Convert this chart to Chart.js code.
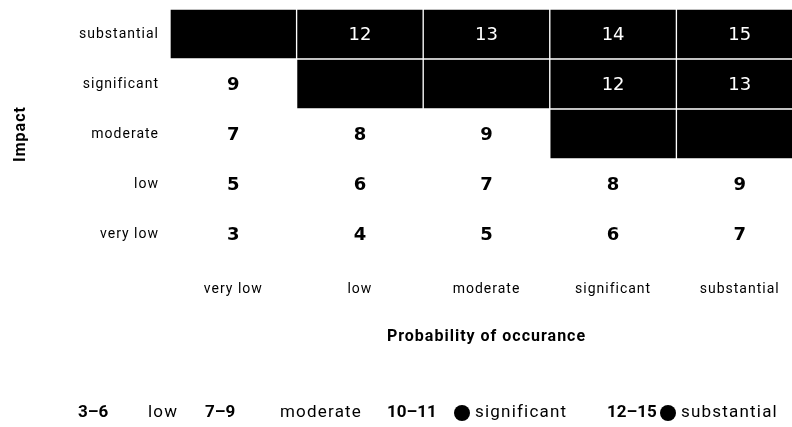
<!DOCTYPE html>
<html>
<head>
  <title>Risk matrix</title>
  <script src="https://cdn.jsdelivr.net/npm/chart.js@4/dist/chart.umd.min.js"></script>
  <style>
    html, body { margin: 0; padding: 0; overflow: hidden; background: #fff; }
    .chart-container { position: relative; width: 806px; height: 427px; }
  </style>
</head>
<body>
  <div class="chart-container">
    <canvas id="matrix"></canvas>
  </div>
  <script>
    // columns: probability of occurance, rows: impact (bottom to top)
    var probLabels = ['very low', 'low', 'moderate', 'significant', 'substantial'];
    var impactLabels = ['very low', 'low', 'moderate', 'significant', 'substantial'];

    var riskVeryLow     = [3, 4, 5, 6, 7];
    var riskLow         = [5, 6, 7, 8, 9];
    var riskModerate    = [7, 8, 9, 10, 11];
    var riskSignificant = [9, 10, 11, 12, 13];
    var riskSubstantial = [11, 12, 13, 14, 15];
    var riskRows = [riskVeryLow, riskLow, riskModerate, riskSignificant, riskSubstantial];

    var legendRanges = ['3–6', '7–9', '10–11', '12–15'];
    var legendNames = ['low', 'moderate', 'significant', 'substantial'];
    var legendMin = [3, 7, 10, 12];

    function cellColor(v) {
      return v >= 10 ? '#000' : 'rgba(0,0,0,0)';
    }

    var datasets = riskRows.map(function(row, r) {
      return {
        label: impactLabels[r],
        risk: row,
        data: row.map(function() { return [r, r + 1]; }),
        backgroundColor: row.map(cellColor),
        borderColor: '#fff',
        borderWidth: 1,
        borderSkipped: false,
        barPercentage: 1,
        categoryPercentage: 1,
        grouped: false
      };
    });

    var spacing = {
      id: 'spacing',
      beforeUpdate: function(chart) { chart.ctx.letterSpacing = '1px'; },
      beforeDraw: function(chart) { chart.ctx.letterSpacing = '1px'; }
    };

    var cellText = {
      id: 'cellText',
      afterDatasetsDraw: function(chart) {
        var ctx = chart.ctx;
        ctx.save();
        ctx.letterSpacing = '0px';
        ctx.textAlign = 'center';
        ctx.textBaseline = 'middle';
        chart.data.datasets.forEach(function(ds, i) {
          chart.getDatasetMeta(i).data.forEach(function(el, j) {
            var v = ds.risk[j];
            ctx.fillStyle = v >= 12 ? '#fff' : '#000';
            ctx.font = (v >= 12 ? 'normal' : 'bold') + ' 18px "DejaVu Sans"';
            ctx.fillText(v, el.x, (el.y + el.base) / 2 + 1);
          });
        });
        ctx.restore();
      }
    };

    // legend item layout: where each range starts and where its name starts
    var riskLegend = {
      id: 'riskLegend',
      afterDraw: function(chart) {
        var ctx = chart.ctx;
        var rangeX = [78, 205, 387, 607];
        var nameX = [148, 280, 475, 681];
        var y = 413;
        ctx.save();
        ctx.textBaseline = 'middle';
        ctx.textAlign = 'left';
        legendRanges.forEach(function(range, i) {
          ctx.fillStyle = '#000';
          ctx.letterSpacing = '0px';
          ctx.font = 'bold 17px Roboto';
          ctx.fillText(range, rangeX[i], y);
          ctx.fillStyle = cellColor(legendMin[i]);
          ctx.beginPath();
          ctx.arc(nameX[i] - 13, y, 8, 0, Math.PI * 2);
          ctx.fill();
          ctx.fillStyle = '#000';
          ctx.letterSpacing = '1.2px';
          ctx.font = '17px Roboto';
          ctx.fillText(legendNames[i], nameX[i], y);
        });
        ctx.restore();
      }
    };

    new Chart(document.getElementById('matrix'), {
      type: 'bar',
      data: { labels: probLabels, datasets: datasets },
      plugins: [spacing, cellText, riskLegend],
      options: {
        responsive: true,
        maintainAspectRatio: false,
        animation: false,
        layout: { padding: { top: 9, left: 0, right: 3, bottom: 68 } },
        plugins: { legend: { display: false }, tooltip: { enabled: false } },
        scales: {
          x: {
            grid: { display: false, drawTicks: false },
            border: { display: false },
            ticks: { color: '#000', font: { family: 'Roboto', size: 14 }, padding: 22 },
            title: {
              display: true,
              text: 'Probability of occurance',
              color: '#000',
              font: { family: 'Roboto', size: 16, weight: 'bold' },
              padding: { top: 0, bottom: 12 }
            },
            afterFit: function(scale) { scale.height = 100; }
          },
          y: {
            min: 0,
            max: 5,
            grid: { display: false, drawTicks: false },
            border: { display: false },
            afterBuildTicks: function(scale) {
              scale.ticks = impactLabels.map(function(l, i) { return { value: i + 0.5 }; });
            },
            ticks: {
              color: '#000',
              font: { family: 'Roboto', size: 14 },
              padding: 11,
              callback: function(v) { return impactLabels[Math.floor(v)]; }
            },
            title: {
              display: true,
              text: 'Impact',
              color: '#000',
              font: { family: 'Roboto', size: 16, weight: 'bold' },
              padding: { top: 11, bottom: 0 }
            },
            afterFit: function(scale) {
              scale.width = 170;
              scale.paddingTop = 0;
              scale.paddingBottom = 0;
            }
          }
        }
      }
    });
  </script>
</body>
</html>
